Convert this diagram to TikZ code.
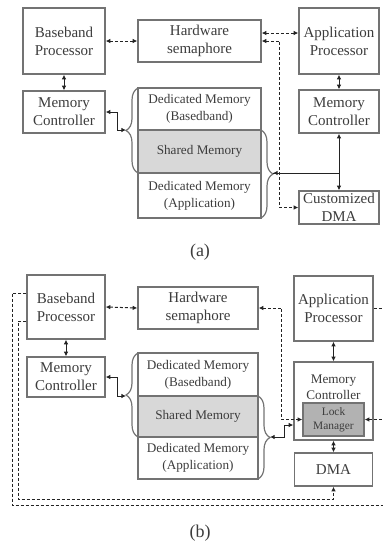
\documentclass[tikz,border=0pt]{standalone}
\usepackage{fontspec}
\setmainfont{Liberation Serif}
\usetikzlibrary{arrows.meta,positioning,decorations.pathreplacing}
\definecolor{BoxGray}{RGB}{115,115,115}
\definecolor{LineGray}{RGB}{35,35,35}
\definecolor{TextGray}{RGB}{60,60,60}
\definecolor{SharedGray}{RGB}{216,216,216}
\definecolor{LockGray}{RGB}{178,178,178}
\tikzset{
  blockbox/.style={draw=BoxGray,line width=0.7pt,text=TextGray,align=center,
    inner sep=0pt,font=\fontsize{7.5}{9}\selectfont},
  membox/.style={blockbox,outer sep=0pt,minimum width=61.5pt,
    font=\fontsize{6.6}{8.4}\selectfont},
  sharedbox/.style={membox,fill=SharedGray},
  lockbox/.style={blockbox,fill=LockGray,font=\fontsize{5.7}{7}\selectfont},
  smalltext/.style={text=TextGray,align=center,font=\fontsize{6.6}{8.4}\selectfont},
  arrow/.style={-{Latex[length=2.3pt,width=2.3pt]},line width=0.5pt,LineGray},
  biarrow/.style={arrow,{Latex[length=2.3pt,width=2.3pt]}-{Latex[length=2.3pt,width=2.3pt]}},
  dasharrow/.style={biarrow,dash pattern=on 1.5pt off 1pt},
  dashline/.style={line width=0.5pt,LineGray,dash pattern=on 1.5pt off 1pt},
  memgroup/.style={decorate,decoration={brace,amplitude=6pt},line width=0.6pt,BoxGray},
  caption/.style={text=TextGray,font=\fontsize{9}{10}\selectfont}
}

\begin{document}
\begin{tikzpicture}[x=0.5pt,y=-0.5pt]
  \useasboundingbox (0,0) rectangle (383,542);
  \coordinate (rEdge) at (383,0);

  % (a) shared memory with customized DMA
  \node[blockbox,minimum width=41pt,minimum height=33pt] (bbA) at (64,41)
    {Baseband\\Processor};
  \node[blockbox,minimum width=61.5pt,minimum height=21pt] (hsA) at (199.5,41)
    {Hardware\\semaphore};
  \node[blockbox,minimum width=40pt,minimum height=33pt] (apA) at (339,41)
    {Application\\Processor};
  \node[blockbox,minimum width=41pt,minimum height=21pt] (mcA) at (64,112)
    {Memory\\Controller};
  \node[blockbox,minimum width=40pt,minimum height=21.5pt] (mcAr) at (339,111.5)
    {Memory\\Controller};
  \node[membox,minimum height=21pt] (dbA) at (199.5,109)
    {Dedicated Memory\\(Basedband)};
  \node[sharedbox,minimum height=21.5pt,below=0pt of dbA] (smA) {Shared Memory};
  \node[membox,minimum height=22.5pt,below=0pt of smA] (daA)
    {Dedicated Memory\\(Application)};
  \node[blockbox,minimum width=40pt,minimum height=16.5pt] (dmaA) at (339,207.5)
    {Customized\\DMA};

  \draw[memgroup] (smA.south west) -- (dbA.north west);
  \draw[memgroup] (smA.north east) -- (daA.south east);
  \coordinate (lbA) at ([xshift=-6pt]dbA.south west);
  \coordinate (rbA) at ([xshift=6pt]smA.south east);

  \draw[biarrow] (bbA.south) -- (mcA.north);
  \draw[biarrow] (apA.south) -- (mcAr.north);
  \draw[dasharrow] (bbA.east) -- (hsA.west);
  \draw[dasharrow] ([yshift=4pt]hsA.east) -- ([yshift=4pt]hsA.east -| apA.west);
  \draw[dasharrow] (hsA.east) -- ++(18,0) |- (dmaA.west);
  \draw[biarrow] (mcA.east) -- ++(12,0) |- (lbA);
  \draw[biarrow] (rbA) -| (mcAr.south);
  \draw[arrow] (rbA) -| (dmaA.north);

  \node[caption] (capA) at (200,252) {(a)};

  % (b) shared memory with lock manager
  \node[blockbox,minimum width=39pt,minimum height=32pt] (bbB) at (66,307)
    {Baseband\\Processor};
  \node[blockbox,minimum width=60pt,minimum height=21pt] (hsB) at (198,308)
    {Hardware\\semaphore};
  \node[blockbox,minimum width=39.5pt,minimum height=32.5pt] (apB) at (333.5,308.5)
    {Application\\Processor};
  \node[blockbox,minimum width=39pt,minimum height=20pt] (mcB) at (66,377)
    {Memory\\Controller};
  \node[membox,minimum width=60pt,minimum height=21.5pt] (dbB) at (198,374.5)
    {Dedicated Memory\\(Basedband)};
  \node[sharedbox,minimum width=60pt,minimum height=20.5pt,below=0pt of dbB] (smB)
    {Shared Memory};
  \node[membox,minimum width=60pt,minimum height=21pt,below=0pt of smB] (daB)
    {Dedicated Memory\\(Application)};
  \node[blockbox,minimum width=39.5pt,minimum height=39pt,
    label={[smalltext,anchor=north,yshift=-3pt]north:Memory\\Controller}] (mcBr)
    at (333.5,401) {};
  \node[lockbox,minimum width=30.5pt,minimum height=16.5pt] (lmB) at (333.5,419.5)
    {Lock\\Manager};
  \node[blockbox,minimum width=39pt,minimum height=16.5pt] (dmaB) at (333.5,469.5)
    {DMA};

  \draw[memgroup] (smB.south west) -- (dbB.north west);
  \draw[memgroup] (smB.north east) -- (daB.south east);
  \coordinate (lbB) at ([xshift=-6pt]dbB.south west);
  \coordinate (rbB) at ([xshift=6pt]smB.south east);
  \coordinate (loopO) at (12,505);
  \coordinate (loopI) at (18,499);

  \draw[biarrow] (bbB.south) -- (mcB.north);
  \draw[biarrow] (apB.south) -- (mcBr.north);
  \draw[biarrow] (mcBr.south) -- (dmaB.north);
  \draw[dasharrow] (bbB.east) -- (hsB.west);
  \draw[dasharrow] (hsB.east) -- ++(23,0) |- (lmB.west);
  \draw[biarrow] (mcB.east) -- ++(12,0) |- (lbB);
  \draw[biarrow] (rbB) -- ++(14,0) |- ([yshift=-12pt]mcBr.west);
  \draw[dashline,{Latex[length=2.3pt,width=2.3pt]}-] (lmB.east) -- (lmB.east -| rEdge);
  \draw[dashline] (apB.east) -- (apB.east -| rEdge);
  \draw[dashline] ([yshift=7pt]bbB.west) -| (loopO) -- (loopO -| rEdge);
  \draw[dashline,-{Latex[length=2.3pt,width=2.3pt]}] ([yshift=-7pt]bbB.west)
    -| (loopI) -| (dmaB.south);

  \node[caption] (capB) at (200,533) {(b)};
\end{tikzpicture}
\end{document}
